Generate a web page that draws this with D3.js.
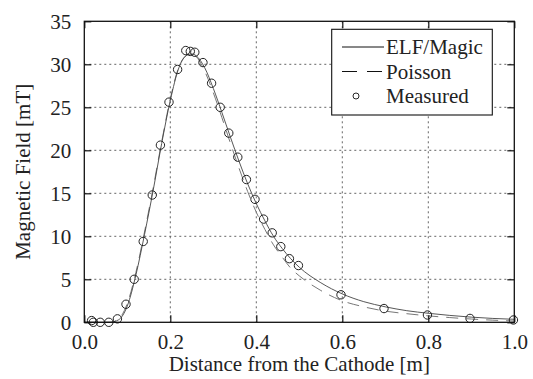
<!DOCTYPE html>
<html><head><meta charset="utf-8">
<script src="https://cdn.jsdelivr.net/npm/d3@7"></script>
<style>
html,body{margin:0;padding:0;background:#fff;}
</style></head>
<body><svg id="c" width="533" height="379" font-family="Liberation Serif"></svg>
<script>
// ---- data ----
const curveX = [0,0.02,0.04,0.06,0.08,0.10,0.12,0.14,0.16,0.18,0.20,0.22,0.24,0.25,0.26,0.28,0.30,0.32,0.34,0.36,0.38,0.40,0.42,0.44,0.46,0.48,0.50,0.55,0.60,0.65,0.70,0.75,0.80,0.85,0.90,0.95,1.0];
const elfMagic = [0,0,0,0,0.3,1.9,5.5,10.2,15.3,20.8,25.8,29.6,31.1,31.2,31.0,29.6,27.2,24.4,21.5,18.7,16.1,13.8,11.8,10.0,8.6,7.4,6.4,4.6,3.3,2.4,1.8,1.35,1.05,0.8,0.6,0.45,0.35];
const poisson  = [0,0,0,0,0.4,2.2,5.8,10.5,15.6,21.0,26.0,29.7,31.1,31.2,30.9,29.2,26.7,23.8,20.8,17.9,15.2,12.8,10.8,9.0,7.6,6.3,5.4,3.7,2.5,1.8,1.3,1.0,0.75,0.55,0.38,0.25,0.15];
const measX = [0.017,0.021,0.037,0.057,0.077,0.097,0.116,0.137,0.158,0.177,0.197,0.217,0.236,0.2465,0.257,0.276,0.296,0.316,0.336,0.357,0.377,0.397,0.417,0.437,0.457,0.477,0.498,0.597,0.697,0.798,0.897,0.998];
const measY = [0.2,0.0,0.0,0.0,0.4,2.1,5.0,9.4,14.8,20.6,25.6,29.4,31.6,31.5,31.4,30.2,27.8,25.0,22.0,19.2,16.6,14.3,12.0,10.4,8.8,7.4,6.6,3.2,1.6,0.85,0.45,0.27];
const xTicks = [0,0.2,0.4,0.6,0.8,1.0];
const yTicks = [0,5,10,15,20,25,30,35];
const legendLabels = ["ELF/Magic","Poisson","Measured"];

// ---- layout ----
const FONT = "Liberation Serif";
const L=84.3, R=514.3, T=21.3, B=322.3;
const svg = d3.select("#c");
const x = d3.scaleLinear().domain([0,1]).range([L,R]);
const y = d3.scaleLinear().domain([0,35]).range([B,T]);
const FS = 21;

// grid
const g = svg.append("g");
g.selectAll(".vg").data(xTicks.slice(1,-1)).enter().append("line")
 .attr("x1",d=>x(d)).attr("x2",d=>x(d)).attr("y1",T).attr("y2",B)
 .attr("stroke","#555").attr("stroke-width",0.9).attr("stroke-dasharray","2,3");
g.selectAll(".hg").data(yTicks.slice(1,-1)).enter().append("line")
 .attr("y1",d=>y(d)).attr("y2",d=>y(d)).attr("x1",L).attr("x2",R)
 .attr("stroke","#555").attr("stroke-width",0.9).attr("stroke-dasharray","2,3");

// curves
const pts = (ys)=>curveX.map((v,i)=>[v,ys[i]]);
const line = d3.line().x(d=>x(d[0])).y(d=>y(d[1])).curve(d3.curveMonotoneX);
svg.append("path").attr("d",line(pts(poisson))).attr("fill","none")
 .attr("stroke","#777").attr("stroke-width",1).attr("stroke-dasharray","12,8");
svg.append("path").attr("d",line(pts(elfMagic))).attr("fill","none")
 .attr("stroke","#444").attr("stroke-width",0.9);

// markers
svg.selectAll(".m").data(measX.map((v,i)=>[v,measY[i]])).enter().append("circle")
 .attr("cx",d=>x(d[0])).attr("cy",d=>y(d[1])).attr("r",4.2)
 .attr("fill","none").attr("stroke","#222").attr("stroke-width",1);

// axes (inward ticks on all sides)
const tl = 7;
const axB = d3.axisBottom(x).tickValues(xTicks).tickFormat(d3.format(".1f")).tickSizeInner(-tl).tickSizeOuter(0).tickPadding(12);
const axL = d3.axisLeft(y).tickValues(yTicks).tickFormat(d3.format("d")).tickSizeInner(-tl).tickSizeOuter(0).tickPadding(13);
const axT = d3.axisTop(x).tickValues(xTicks).tickFormat("").tickSizeInner(-tl).tickSizeOuter(0);
const axR = d3.axisRight(y).tickValues(yTicks).tickFormat("").tickSizeInner(-tl).tickSizeOuter(0);
function style(sel){
  sel.attr("font-family",FONT).attr("font-size",FS);
  sel.select(".domain").remove();
  sel.selectAll("line").attr("stroke","#111").attr("stroke-width",1.2);
  sel.selectAll("text").attr("font-size",FS).attr("font-family",FONT).attr("fill","#222");
}
svg.append("g").attr("transform",`translate(0,${B})`).call(axB).call(style);
svg.append("g").attr("transform",`translate(${L},0)`).call(axL).call(style);
svg.append("g").attr("transform",`translate(0,${T})`).call(axT).call(style);
svg.append("g").attr("transform",`translate(${R},0)`).call(axR).call(style);
svg.append("rect").attr("x",L).attr("y",T).attr("width",R-L).attr("height",B-T)
 .attr("fill","none").attr("stroke","#111").attr("stroke-width",1.3);

// axis titles
svg.append("text").attr("x",(L+R)/2).attr("y",371).attr("text-anchor","middle")
 .attr("font-size",FS).attr("font-family",FONT).attr("fill","#222").text("Distance from the Cathode [m]");
svg.append("text").attr("transform",`translate(30,${(T+B)/2}) rotate(-90)`).attr("text-anchor","middle")
 .attr("font-size",FS).attr("font-family",FONT).attr("fill","#222").text("Magnetic Field [mT]");

// legend
const lg = svg.append("g");
lg.append("rect").attr("x",331.7).attr("y",29.3).attr("width",160.6).attr("height",85.7)
 .attr("fill","#fff").attr("stroke","#111").attr("stroke-width",1.1);
const rowY = [47,71.5,96];
lg.append("line").attr("x1",342).attr("x2",384).attr("y1",rowY[0]).attr("y2",rowY[0]).attr("stroke","#111").attr("stroke-width",1);
lg.append("line").attr("x1",342).attr("x2",384).attr("y1",rowY[1]).attr("y2",rowY[1]).attr("stroke","#111").attr("stroke-width",1).attr("stroke-dasharray","15,10");
lg.append("circle").attr("cx",356).attr("cy",rowY[2]).attr("r",3).attr("fill","none").attr("stroke","#111").attr("stroke-width",0.9);
lg.selectAll(".lt").data(legendLabels).enter().append("text")
 .attr("x",386).attr("y",(d,i)=>rowY[i]+7).attr("font-size",FS).attr("font-family",FONT).attr("fill","#222").text(d=>d);
</script></body></html>
